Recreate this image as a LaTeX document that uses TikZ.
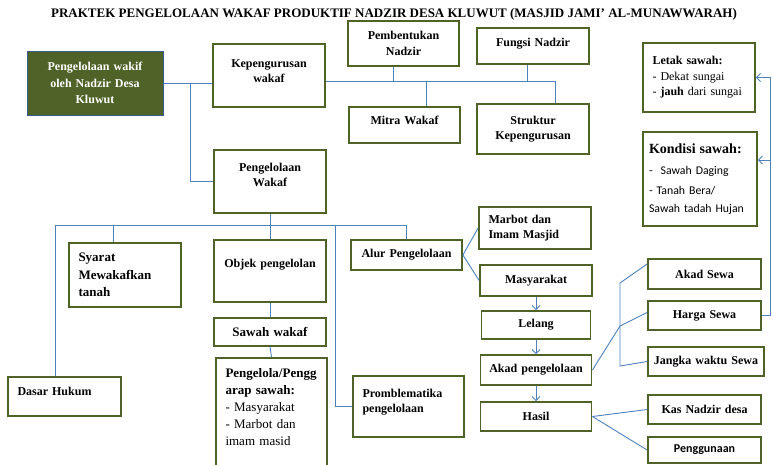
\documentclass[tikz,border=0pt]{standalone}
\usepackage{xcolor}
\usepackage{fontspec}
\setmainfont{Liberation Serif}
\newfontfamily\calibfont{Carlito}
\usepackage{tikz}
\usetikzlibrary{arrows.meta,positioning}

\definecolor{olivebox}{RGB}{79,98,40}
\definecolor{rootline}{RGB}{56,93,138}
\definecolor{linkblue}{RGB}{79,129,189}

\begin{document}
\begin{tikzpicture}[x=1pt, y=-1pt]
    % Define styles
    \tikzstyle{box} = [rectangle, draw=olivebox, line width=1.8pt, inner xsep=4pt, inner ysep=2pt, align=center, font=\bfseries\fontsize{12}{15.5}\selectfont]
    \tikzstyle{leftbox} = [box, align=left, inner xsep=9.5pt]
    \tikzstyle{rootbox} = [rectangle, draw=rootline, fill=olivebox, line width=1pt, text=white, align=center, inner xsep=4pt, font=\bfseries\fontsize{12}{16.5}\selectfont]
    \tikzstyle{link} = [draw=linkblue, line width=0.9pt, >={Straight Barb[length=4pt,width=8pt]}]

    \useasboundingbox (0,0) rectangle (773,464);

    % Title
    \node (title) at (394,14) {\fontsize{13}{15}\selectfont\bfseries PRAKTEK PENGELOLAAN WAKAF PRODUKTIF NADZIR DESA KLUWUT (MASJID JAMI’ AL-MUNAWWARAH)};

    % Nodes
    \node [rootbox, text width=128pt, minimum height=64pt] (root) at (95,83) {Pengelolaan wakif\\oleh Nadzir Desa\\Kluwut};
    \node [box, text width=104pt, minimum height=63pt] (kepeng) at (269,75.5) {Kepengurusan\\wakaf\\[-6.5pt]\mbox{}};
    \node [box, text width=103pt, minimum height=45pt] (pembentukan) at (403.5,43.5) {Pembentukan\\Nadzir};
    \node [box, text width=104pt, minimum height=36pt] (fungsi) at (533,46) {Fungsi Nadzir\\[-7.5pt]\mbox{}};
    \node [box, text width=103pt, minimum height=36pt] (mitra) at (404.5,125) {Mitra Wakaf\\[-5.5pt]\mbox{}};
    \node [box, text width=104pt, minimum height=50pt] (struktur) at (533,129) {Struktur\\Kepengurusan};
    \node [leftbox, text width=93pt, minimum height=69pt] (letak) at (699,77.5) {Letak sawah:\\\textnormal{- Dekat sungai}\\\textnormal{- \textbf{jauh} dari sungai}};
    \node [leftbox, text width=102pt, inner xsep=6pt, minimum height=94pt, font=\bfseries\fontsize{12}{18}\selectfont] (kondisi) at (700,179) {{\fontsize{14}{17}\selectfont Kondisi sawah:}\\[3pt]{\calibfont\mdseries\fontsize{11.8}{14}\selectfont -\ \ Sawah Daging}\\[2pt]{\calibfont\mdseries\fontsize{11.8}{14}\selectfont - Tanah Bera/}\\{\calibfont\mdseries\fontsize{11.8}{14}\selectfont Sawah tadah Hujan}};

    \node [box, text width=104pt, minimum height=63pt] (pwakaf) at (270,181.5) {Pengelolaan\\Wakaf\\[-2.5pt]\mbox{}};
    \node [leftbox, text width=93pt, minimum height=64pt, font=\bfseries\fontsize{13}{17.5}\selectfont] (syarat) at (125,275) {Syarat\\Mewakafkan\\tanah};
    \node [box, text width=104pt, minimum height=62pt] (objek) at (270,271) {Objek pengelolan\\[-1pt]\mbox{}};
    \node [box, text width=104pt, minimum height=28pt, font=\bfseries\fontsize{13}{15.5}\selectfont] (sawah) at (270,332) {Sawah wakaf};
    \node [leftbox, text width=92pt, minimum height=112pt, font=\bfseries\fontsize{13}{17}\selectfont] (penggarap) at (271.5,414) {Pengelola/Pengg\\arap sawah:\\\textnormal{- Masyarakat}\\\textnormal{- Marbot dan}\\\textnormal{imam masid}\\[-3pt]\mbox{}};
    \node [leftbox, text width=94pt, minimum height=39pt] (dasar) at (64.5,396.5) {Dasar Hukum\\[-4.5pt]\mbox{}};
    \node [box, text width=103pt, minimum height=30pt] (alur) at (406.5,255) {Alur Pengelolaan};
    \node [leftbox, text width=92pt, minimum height=61pt] (promb) at (408.5,406.5) {Promblematika\\pengelolaan\\[-4pt]\mbox{}};

    \node [leftbox, text width=93pt, minimum height=42pt] (marbot) at (535,228) {Marbot dan\\Imam Masjid};
    \node [box, text width=104pt, minimum height=31pt] (masy) at (536,280.5) {Masyarakat};
    \node [box, text width=101pt, minimum height=28pt] (lelang) at (536,325) {Lelang};
    \node [box, text width=103pt, minimum height=30pt] (akadp) at (536,370) {Akad pengelolaan};
    \node [box, text width=103pt, minimum height=29pt] (hasil) at (536,416.5) {Hasil};

    \node [box, text width=105pt, minimum height=30pt] (akadsewa) at (704.5,274) {Akad Sewa};
    \node [box, text width=105pt, minimum height=29pt] (harga) at (704.5,315.5) {Harga Sewa};
    \node [box, text width=108pt, minimum height=29pt] (jangka) at (706,361.5) {Jangka waktu Sewa};
    \node [box, text width=105pt, minimum height=29pt] (kas) at (704.5,409.5) {Kas Nadzir desa};
    \node [box, text width=105pt, minimum height=26pt] (penggunaan) at (704.5,450) {\calibfont Penggunaan};

    % Junctions
    \coordinate (jPem) at (393,81);
    \coordinate (jMit) at (426,81);
    \coordinate (jFun) at (527,81);
    \coordinate (jStr) at (555,81);
    \coordinate (jDas) at (55,225);
    \coordinate (jSya) at (113,225);
    \coordinate (jPro) at (335,225);
    \coordinate (jHar) at (620,326);
    \coordinate (jAkT) at (620,283);
    \coordinate (jAkB) at (620,366);
    \coordinate (jFb) at (770,160);

    % Lines
    \draw [link] (root.east) -- (kepeng.west |- root.east);
    \draw [link] (root.east) ++(27,0) |- (pwakaf.west);
    \draw [link] (kepeng.east |- jStr) -- (jStr) -- (jStr |- struktur.north);
    \draw [link] (pembentukan.south -| jPem) -- (jPem);
    \draw [link] (fungsi.south -| jFun) -- (jFun);
    \draw [link] (jMit) -- (mitra.north -| jMit);

    \draw [link] (dasar.north -| jDas) -- (jDas) -- (jDas -| alur.north) -- (alur.north);
    \draw [link] (jSya) -- (syarat.north -| jSya);
    \draw [link] (pwakaf.south) -- (objek.north);
    \draw [link] (jPro) |- (promb.west);
    \draw [link] (objek.south) -- (sawah.north);
    \draw [link] (sawah.south) -- (penggarap.north);

    \draw [link] (alur.east) -- (marbot.west);
    \draw [link] (alur.east) -- (masy.west);
    \draw [link] (akadp.east) -- (jHar) -- ([yshift=3pt]harga.west);
    \draw [link] ([yshift=10pt]akadsewa.west) -- (jAkT) -- (jAkB) -- (jangka.west);
    \draw [link] (hasil.east) -- (kas.west);
    \draw [link] (hasil.east) -- (penggunaan.west);

    % Arrows
    \draw [link, ->] (masy) -- (lelang);
    \draw [link, ->] (lelang) -- (akadp);
    \draw [link, ->] (akadp) -- (hasil);
    \draw [link, ->] (harga.east) -| (jFb |- letak.east) -- (letak.east);
    \draw [link, ->] (jFb) -- (kondisi.east |- jFb);
\end{tikzpicture}
\end{document}
